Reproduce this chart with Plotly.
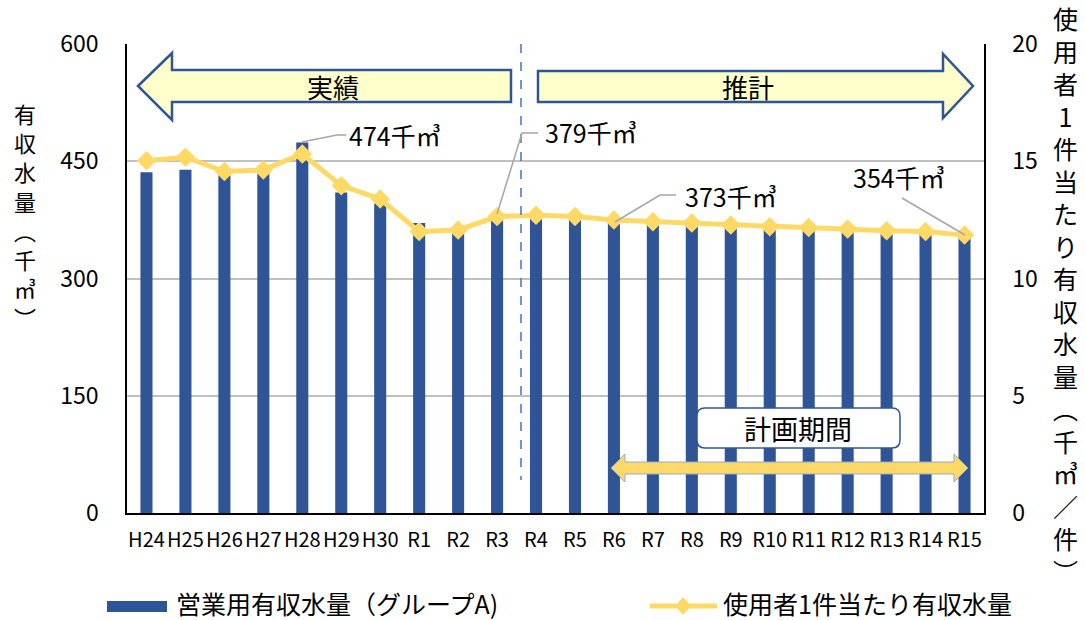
import plotly.graph_objects as go

categories = ["H24", "H25", "H26", "H27", "H28", "H29", "H30", "R1", "R2", "R3", "R4",
              "R5", "R6", "R7", "R8", "R9", "R10", "R11", "R12", "R13", "R14", "R15"]
bar_values = [436, 439, 432, 435, 474, 410, 396, 371, 362, 379, 377,
              376, 373, 371, 369, 367, 365, 363, 361, 359, 357, 354]
line_values = [15.02, 15.17, 14.56, 14.63, 15.31, 13.96, 13.39, 12.00, 12.07, 12.64, 12.70,
               12.64, 12.49, 12.42, 12.37, 12.28, 12.21, 12.17, 12.11, 12.04, 12.00, 11.85]
left_ticks = [0, 150, 300, 450, 600]
right_ticks = [0, 5, 10, 15, 20]
bar_name = "営業用有収水量（グループA)"
line_name = "使用者1件当たり有収水量"

W, H = 1085, 620
L, R, T, B = 127, 101, 44, 107
PW, PH = W - L - R, H - T - B
FONT = "Noto Sans CJK JP"
BLUE = "#2F5597"
YEL = "#FFD966"


def X(px):
    return (px - L) / PW


def Y(py):
    return (H - B - py) / PH


def path(pts, close=True):
    s = "M " + " L ".join(f"{X(a):.5f},{Y(b):.5f}" for a, b in pts)
    return s + (" Z" if close else "")


fig = go.Figure()
fig.add_trace(go.Bar(x=categories, y=bar_values, name=bar_name, marker_color=BLUE,
                     marker_line_width=0, showlegend=False))
fig.add_trace(go.Scatter(x=categories, y=line_values, name=line_name, yaxis="y2",
                         mode="lines+markers", line=dict(color=YEL, width=5),
                         marker=dict(symbol="diamond", size=15, color=YEL),
                         showlegend=False))

shapes = []
# dashed separator
shapes.append(dict(type="line", xref="paper", yref="paper", x0=X(521), x1=X(521),
                   y0=Y(44), y1=Y(480), line=dict(color="#4472C4", width=1.5, dash="dash")))
# arrows
arrow_style = dict(type="path", xref="paper", yref="paper", fillcolor="#FFFFCC",
                   line=dict(color=BLUE, width=2.5), layer="above")
shapes.append(dict(path=path([(138, 86), (172, 53), (172, 70), (511, 70), (511, 102),
                              (172, 102), (172, 120)]), **arrow_style))
shapes.append(dict(path=path([(538, 71), (943, 71), (943, 54), (973, 86), (943, 118),
                              (943, 102), (538, 102)]), **arrow_style))
# planning period double arrow
shapes.append(dict(type="path", xref="paper", yref="paper", fillcolor=YEL,
                   line=dict(color="#8FAADC", width=1),
                   path=path([(611, 468), (625, 454), (625, 462), (954, 462), (954, 454),
                              (968, 468), (954, 482), (954, 474), (625, 474), (625, 482)])))
# rounded box
x0b, x1b, y0b, y1b, r = 697, 900, 408, 448, 8
rb = (f"M {X(x0b + r)},{Y(y0b)} L {X(x1b - r)},{Y(y0b)} Q {X(x1b)},{Y(y0b)} {X(x1b)},{Y(y0b + r)} "
      f"L {X(x1b)},{Y(y1b - r)} Q {X(x1b)},{Y(y1b)} {X(x1b - r)},{Y(y1b)} "
      f"L {X(x0b + r)},{Y(y1b)} Q {X(x0b)},{Y(y1b)} {X(x0b)},{Y(y1b - r)} "
      f"L {X(x0b)},{Y(y0b + r)} Q {X(x0b)},{Y(y0b)} {X(x0b + r)},{Y(y0b)} Z")
shapes.append(dict(type="path", xref="paper", yref="paper", path=rb, fillcolor="white",
                   line=dict(color=BLUE, width=1.5)))
# leader lines
lead = dict(type="path", xref="paper", yref="paper", line=dict(color="#A6A6A6", width=1.5))
shapes.append(dict(path=path([(302, 142), (337, 135), (346, 135)], close=False), **lead))
shapes.append(dict(path=path([(497, 214), (522, 133), (538, 133)], close=False), **lead))
shapes.append(dict(path=path([(615, 222), (660, 195), (676, 195)], close=False), **lead))
shapes.append(dict(path=path([(902, 198), (965, 235)], close=False), **lead))
# manual legend
shapes.append(dict(type="rect", xref="paper", yref="paper", x0=X(107), x1=X(167),
                   y0=Y(601), y1=Y(612), fillcolor=BLUE, line=dict(width=0)))
shapes.append(dict(type="line", xref="paper", yref="paper", x0=X(650), x1=X(717),
                   y0=Y(606), y1=Y(606), line=dict(color=YEL, width=5)))
shapes.append(dict(type="path", xref="paper", yref="paper", fillcolor=YEL, line=dict(width=0),
                   path=path([(683, 597), (691, 606), (683, 615), (675, 606)])))

ann = []


def txt(t, px, py, size, xanchor="center"):
    ann.append(dict(text=t, x=X(px), y=Y(py), xref="paper", yref="paper", showarrow=False,
                    xanchor=xanchor, yanchor="middle", font=dict(family=FONT, size=size, color="black")))


txt("実績", 333, 86, 26)
txt("推計", 748, 86, 26)
txt("計画期間", 798, 428, 27)
txt("474千㎥", 347, 135, 25, "left")
txt("379千㎥", 543, 132, 25, "left")
txt("373千㎥", 683, 196, 25, "left")
txt("354千㎥", 851, 177, 25, "left")
txt(bar_name, 174, 603, 25, "left")
txt(line_name, 721, 603, 25, "left")

left_title = ["有", "収", "水", "量", "︵", "千", "㎥", "︶"]
right_title = ["使", "用", "者", "1", "件", "当", "た", "り", "有", "収", "水", "量",
               "︵", "千", "㎥", "／", "件", "︶"]
for i, ch in enumerate(left_title):
    txt(ch, 25, 113 + i * 29.2, 22)
txt("<br>".join(right_title), 1065, 294, 25)

fig.update_layout(
    width=W, height=H, margin=dict(l=L, r=R, t=T, b=B, autoexpand=False),
    paper_bgcolor="white", plot_bgcolor="white", bargap=0.69,
    font=dict(family=FONT, size=22, color="black"),
    shapes=shapes, annotations=ann,
    xaxis=dict(type="category", range=[-0.5, len(categories) - 0.5], tickangle=0,
               showline=True, linecolor="black", linewidth=1.5,
               ticks="", tickfont=dict(size=20), ticklabelstandoff=8, mirror=False),
    yaxis=dict(range=[0, 600], tickvals=left_ticks, showgrid=True, gridcolor="#C0C0C0",
               gridwidth=1.5, showline=True, linecolor="black", linewidth=1.5, ticks="",
               tickfont=dict(size=23), ticklabelstandoff=22, zeroline=False),
    yaxis2=dict(range=[0, 20], tickvals=right_ticks, overlaying="y", side="right",
                showgrid=False, showline=True, linecolor="black", linewidth=1.5, ticks="",
                tickfont=dict(size=23), ticklabelstandoff=22, zeroline=False),
)
fig.write_html("out.html")
